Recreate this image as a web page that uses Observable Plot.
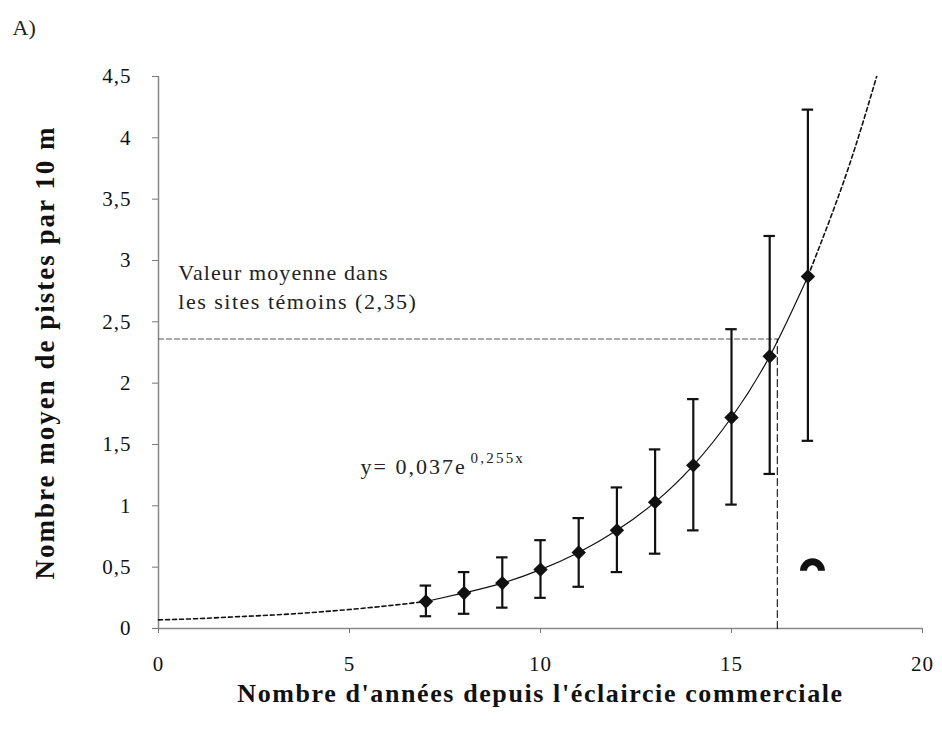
<!DOCTYPE html>
<html>
<head>
<meta charset="utf-8">
<script src="https://cdn.jsdelivr.net/npm/d3@7"></script>
<script src="https://cdn.jsdelivr.net/npm/@observablehq/plot@0.6"></script>
<style>
  html, body { margin: 0; padding: 0; background: #fff; }
  #chart svg { display: block; }
  #chart svg text { font-family: "Liberation Serif", "Times New Roman", "DejaVu Serif", serif; }
</style>
</head>
<body>
<div id="chart"></div>
<script>
const years = [7, 8, 9, 10, 11, 12, 13, 14, 15, 16, 17];
const means = [0.22, 0.29, 0.37, 0.48, 0.62, 0.80, 1.03, 1.33, 1.72, 2.22, 2.87];
const lows  = [0.10, 0.12, 0.17, 0.25, 0.34, 0.46, 0.61, 0.80, 1.01, 1.26, 1.53];
const highs = [0.35, 0.46, 0.58, 0.72, 0.90, 1.15, 1.46, 1.87, 2.44, 3.20, 4.23];

// Fitted curve
const fitBeforeX = [0, 1, 2, 3, 4, 5, 6, 7];
const fitBeforeY = [0.07, 0.08, 0.095, 0.11, 0.13, 0.155, 0.185, 0.22];
const fitAfterX = [17, 18, 18.8];
const fitAfterY = [2.87, 3.70, 4.50];

// Control-site reference
const controlValue = 2.36;
const crossingYear = 16.2;

// Scan smudge near (17.1, 0.5)
const smudge = [{x: 17.12, y: 0.5}];

const xTicks = [0, 5, 10, 15, 20];
const yTicks = [0, 0.5, 1, 1.5, 2, 2.5, 3, 3.5, 4, 4.5];

const points = years.map((x, i) => ({x, y: means[i], lo: lows[i], hi: highs[i]}));
const fitBefore = fitBeforeX.map((x, i) => ({x, y: fitBeforeY[i]}));
const fitAfter = fitAfterX.map((x, i) => ({x, y: fitAfterY[i]}));
const hRef = [{x: 0, y: controlValue}, {x: crossingYear, y: controlValue}];
const vRef = [{x: crossingYear, y: 0}, {x: crossingYear, y: controlValue}];

const fmt = d => String(d).replace(".", ",");
const serif = "Liberation Serif";

const labelA = "A)";
const yTitle = "Nombre moyen de pistes par 10 m";
const xTitle = "Nombre d'années depuis l'éclaircie commerciale";
const note1 = "Valeur moyenne dans";
const note2 = "les sites témoins (2,35)";
const eqMain = "y= 0,037e";
const eqExp = "0,255x";

// arc-shaped symbol for the smudge
const capSymbol = {
  draw(context, size) {
    const r = Math.sqrt(size / Math.PI);
    context.moveTo(-r, r * 0.4);
    context.arc(0, r * 0.4, r, Math.PI, 0);
  }
};

const plot = Plot.plot({
  width: 942,
  height: 735,
  marginLeft: 158,
  marginRight: 20,
  marginTop: 76,
  marginBottom: 107,
  style: {fontFamily: serif, fontSize: "21px", color: "#111", background: "#fff"},
  x: {domain: [0, 20], ticks: xTicks, tickFormat: fmt},
  y: {domain: [0, 4.5], ticks: yTicks, tickFormat: fmt},
  marks: [
    // axes
    Plot.ruleX([0], {stroke: "#888", strokeWidth: 1.5}),
    Plot.ruleY([0], {stroke: "#888", strokeWidth: 1.5}),
    Plot.axisY({ticks: yTicks, tickFormat: fmt, tickSize: 6, tickPadding: 21, label: null, stroke: "#777", fontSize: 21, fontFamily: serif}),
    Plot.axisX({ticks: xTicks, tickFormat: fmt, tickSize: 5, tickPadding: 23, label: null, stroke: "#777", fontSize: 21, fontFamily: serif}),
    // reference lines
    Plot.line(hRef, {x: "x", y: "y", stroke: "#555", strokeWidth: 1.2, strokeDasharray: "5,3"}),
    Plot.line(vRef, {x: "x", y: "y", stroke: "#222", strokeWidth: 1.2, strokeDasharray: "7,4"}),
    // fitted curve
    Plot.line(fitBefore, {x: "x", y: "y", curve: "natural", stroke: "#111", strokeWidth: 1.6, strokeDasharray: "4,3"}),
    Plot.line(points, {x: "x", y: "y", curve: "natural", stroke: "#111", strokeWidth: 1.2}),
    Plot.line(fitAfter, {x: "x", y: "y", curve: "natural", stroke: "#111", strokeWidth: 1.6, strokeDasharray: "4,3"}),
    // error bars
    Plot.ruleX(points, {x: "x", y1: "lo", y2: "hi", stroke: "#111", strokeWidth: 2.2}),
    Plot.ruleY(points, {y: "hi", x1: d => d.x - 0.15, x2: d => d.x + 0.15, stroke: "#111", strokeWidth: 2.2}),
    Plot.ruleY(points, {y: "lo", x1: d => d.x - 0.15, x2: d => d.x + 0.15, stroke: "#111", strokeWidth: 2.2}),
    // means
    Plot.dot(points, {x: "x", y: "y", symbol: "diamond2", r: 6.5, fill: "#111", stroke: "none"}),
    // smudge
    Plot.dot(smudge, {x: "x", y: "y", symbol: capSymbol, r: 9, fill: "none", stroke: "#111", strokeWidth: 7}),
    // annotations
    Plot.text([note1], {x: 0.52, y: 2.9, text: d => d, textAnchor: "start", fontSize: 22, fontFamily: serif, fill: "#222"}),
    Plot.text([note2], {x: 0.52, y: 2.66, text: d => d, textAnchor: "start", fontSize: 22, fontFamily: serif, fill: "#222"}),
    Plot.text([eqMain], {x: 5.29, y: 1.32, text: d => d, textAnchor: "start", fontSize: 22, fontFamily: serif, fill: "#222"}),
    Plot.text([eqExp], {x: 8.17, y: 1.39, text: d => d, textAnchor: "start", fontSize: 15, fontFamily: serif, fill: "#222"}),
    // panel label & axis titles
    Plot.text([labelA], {frameAnchor: "top-left", dx: -146, dy: -49, text: d => d, fontSize: 22, textAnchor: "start", lineAnchor: "middle", fontFamily: serif, fill: "#222"}),
    Plot.text([yTitle], {frameAnchor: "left", dx: -113, rotate: -90, textAnchor: "middle", lineAnchor: "middle", text: d => d, fontSize: 27, fontWeight: "bold", fontFamily: serif, fill: "#111"}),
    Plot.text([xTitle], {frameAnchor: "bottom", dy: 65, lineAnchor: "middle", text: d => d, fontSize: 26, fontWeight: "bold", fontFamily: serif, fill: "#111"})
  ]
});

// widen letter spacing like the scanned original
const spacing = new Map([
  [yTitle, "2px"], [xTitle, "1.6px"], [note1, "1.1px"], [note2, "1.5px"],
  [eqMain, "2px"], [eqExp, "2.2px"]
]);
d3.select(plot).selectAll("text").each(function() {
  const s = spacing.get(this.textContent);
  if (s) this.style.letterSpacing = s;
});
d3.select(plot).selectAll("[aria-label^='y-axis tick label'] text, [aria-label^='x-axis tick label'] text")
  .style("letter-spacing", "1px");
document.getElementById("chart").appendChild(plot);
</script>
</body>
</html>
